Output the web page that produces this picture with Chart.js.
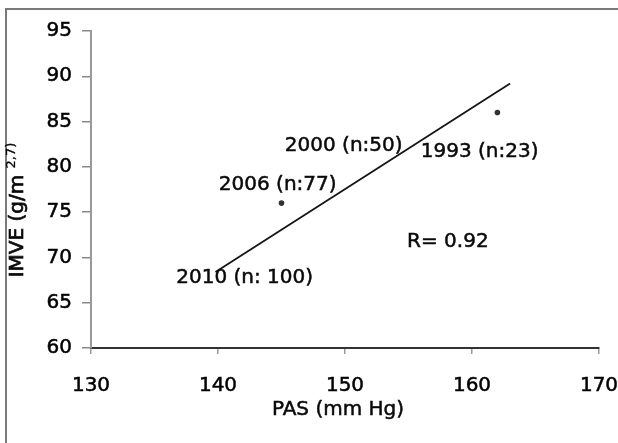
<!DOCTYPE html>
<html><head><meta charset="utf-8">
<script src="https://cdn.jsdelivr.net/npm/chart.js@4/dist/chart.umd.min.js"></script>
<style>html,body{margin:0;padding:0;background:#fff;overflow:hidden}#wrap{width:618px;height:443px;position:relative}</style>
</head><body><div id="wrap"><canvas id="c" width="618" height="443"></canvas></div>
<script>
const xTicks = [130, 140, 150, 160, 170];
const yTicks = [60, 65, 70, 75, 80, 85, 90, 95];
const pointPAS = [145, 162];
const pointIMVE = [76, 86];
const fitPAS = [139.8, 163.0];
const fitIMVE = [68.4, 89.2];
const studyLabels = ['2000 (n:50)', '1993 (n:23)', '2006 (n:77)', '2010 (n: 100)'];
const studyLabelPAS = [149.9, 160.6, 144.7, 142.1];
const studyLabelIMVE = [82.3, 81.7, 78.0, 67.8];
const rLabel = 'R= 0.92';
const rPAS = 158.1;
const rIMVE = 71.7;
const xTitle = 'PAS (mm Hg)';
const yTitleMain = 'IMVE (g/m ';
const yTitleSup = '2,7)';

const FONT = "'DejaVu Sans', sans-serif";

function heavyText(ctx, t, x, y) {
  ctx.fillText(t, x, y);
  ctx.strokeText(t, x, y);
}

const decor = {
  id: 'decor',
  beforeDraw(chart) {
    const ctx = chart.ctx;
    ctx.save();
    ctx.fillStyle = '#fff';
    ctx.fillRect(0, 0, chart.width, chart.height);
    ctx.strokeStyle = '#7a7a7a';
    ctx.lineWidth = 2;
    ctx.beginPath();
    ctx.moveTo(6, chart.height + 2);
    ctx.lineTo(6, 9);
    ctx.lineTo(chart.width + 2, 9);
    ctx.stroke();
    ctx.restore();
  },
  afterDraw(chart) {
    const ctx = chart.ctx;
    const xs = chart.scales.x, ys = chart.scales.y;
    ctx.save();
    ctx.fillStyle = '#0a0a0a';
    ctx.strokeStyle = '#0a0a0a';
    ctx.lineWidth = 0.5;
    ctx.font = "20px " + FONT;
    ctx.textAlign = 'center';
    ctx.textBaseline = 'middle';
    studyLabels.forEach((t, i) => {
      heavyText(ctx, t, xs.getPixelForValue(studyLabelPAS[i]), ys.getPixelForValue(studyLabelIMVE[i]));
    });
    heavyText(ctx, rLabel, xs.getPixelForValue(rPAS), ys.getPixelForValue(rIMVE));
    // x title
    heavyText(ctx, xTitle, 338, 410);
    // y title
    ctx.translate(18, 210);
    ctx.rotate(-Math.PI / 2);
    ctx.font = "20px " + FONT;
    const w1 = ctx.measureText(yTitleMain).width;
    ctx.font = "13px " + FONT;
    const w2 = ctx.measureText(yTitleSup).width;
    const total = w1 + w2;
    ctx.textAlign = 'left';
    ctx.font = "20px " + FONT;
    ctx.lineWidth = 0.7;
    heavyText(ctx, yTitleMain, -total / 2, 0);
    ctx.font = "13px " + FONT;
    ctx.lineWidth = 0.3;
    heavyText(ctx, yTitleSup, -total / 2 + w1, -6);
    ctx.restore();
  }
};

new Chart(document.getElementById('c'), {
  type: 'scatter',
  data: {
    datasets: [
      {
        label: 'fit',
        data: fitPAS.map((x, i) => ({ x, y: fitIMVE[i] })),
        showLine: true,
        borderColor: '#151515',
        borderWidth: 1.8,
        pointRadius: 0,
        fill: false
      },
      {
        label: 'studies',
        data: pointPAS.map((x, i) => ({ x, y: pointIMVE[i] })),
        pointRadius: 2.8,
        backgroundColor: '#333',
        borderColor: '#333',
        borderWidth: 0
      }
    ]
  },
  options: {
    responsive: false,
    animation: false,
    devicePixelRatio: 1,
    layout: { padding: { left: 0, top: 31, right: 19, bottom: 0 } },
    plugins: { legend: { display: false }, tooltip: { enabled: false } },
    scales: {
      x: {
        type: 'linear', min: 130, max: 170,
        afterBuildTicks: s => { s.ticks = xTicks.map(v => ({ value: v })); },
        afterFit: s => { s.height = 95; s.paddingLeft = 0; s.paddingRight = 0; },
        ticks: { color: '#000', font: { family: FONT, size: 20 }, padding: 20, maxRotation: 0, textStrokeColor: '#000', textStrokeWidth: 0.5 },
        grid: { drawOnChartArea: false, drawTicks: true, tickLength: 6, color: '#999', lineWidth: 1.5 },
        border: { display: true, color: '#333', width: 2 }
      },
      y: {
        type: 'linear', min: 60, max: 95,
        afterBuildTicks: s => { s.ticks = yTicks.map(v => ({ value: v })); },
        afterFit: s => { s.width = 91; s.paddingTop = 0; s.paddingBottom = 0; },
        ticks: { color: '#000', font: { family: FONT, size: 20 }, padding: 10, textStrokeColor: '#000', textStrokeWidth: 0.5 },
        grid: { drawOnChartArea: false, drawTicks: true, tickLength: 9, color: '#888', lineWidth: 1.5 },
        border: { display: true, color: '#999', width: 2 }
      }
    }
  },
  plugins: [decor]
});
</script></body></html>
